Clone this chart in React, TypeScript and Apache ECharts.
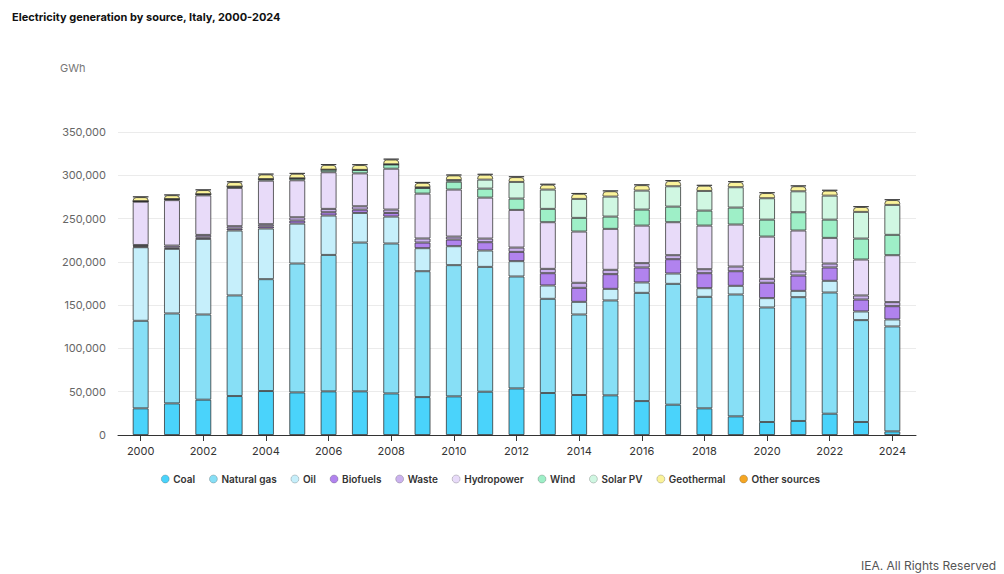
import React, { useEffect, useRef } from "react";
import * as echarts from "echarts";

const years = ["2000","2001","2002","2003","2004","2005","2006","2007","2008","2009","2010","2011","2012","2013","2014","2015","2016","2017","2018","2019","2020","2021","2022","2023","2024"];

// GWh
const coal = [30800, 36500, 40800, 45000, 50800, 49200, 50400, 50400, 48000, 43800, 44600, 50000, 53800, 48500, 46200, 45800, 39200, 35000, 30800, 21500, 15000, 16200, 24600, 15000, 4200];
const naturalGas = [101100, 103900, 98400, 116200, 129200, 148900, 157600, 171900, 173200, 145400, 151600, 144200, 129300, 108800, 93000, 109600, 125000, 139600, 128800, 140800, 132300, 143000, 140000, 117700, 121200];
const oil = [85000, 74600, 87300, 75000, 58500, 46100, 45500, 34200, 31100, 26600, 21900, 18900, 17700, 15400, 14600, 13400, 12000, 11900, 10000, 10000, 10800, 7300, 13500, 10000, 8100];
const biofuels = [1000, 1400, 1800, 2200, 2500, 3500, 3800, 3800, 4200, 6500, 7700, 9600, 10700, 14200, 16200, 17000, 17300, 16600, 17300, 16900, 17700, 17700, 15400, 13800, 15300];
const waste = [1600, 2400, 2800, 2800, 2500, 3800, 3900, 3900, 3900, 4700, 3400, 4200, 5000, 5000, 5800, 5000, 5000, 4600, 4600, 5400, 4600, 4600, 4600, 4700, 4700];
const hydropower = [50000, 52500, 45700, 44200, 50300, 42700, 42300, 38000, 47200, 51800, 54300, 47300, 43500, 53900, 59200, 47300, 43400, 38100, 50400, 48500, 48800, 47400, 29600, 41500, 54200];
const wind = [600, 1200, 1400, 1500, 1800, 2300, 3000, 4000, 4900, 6500, 9100, 10400, 13100, 15400, 15800, 14200, 18500, 18000, 17300, 19600, 19600, 21100, 21100, 24200, 23500];
const solarPV = [0, 0, 0, 0, 0, 0, 0, 40, 200, 700, 1900, 10400, 19200, 22300, 21900, 23100, 21900, 23500, 22700, 23500, 24700, 24200, 27700, 30800, 34600];
const geothermal = [4700, 4500, 4700, 5300, 5400, 5300, 5500, 5600, 5500, 5300, 5400, 5700, 5600, 5700, 5900, 6200, 6300, 6200, 6100, 6100, 6000, 5900, 5800, 5700, 5600];
const otherSources = [600, 600, 600, 700, 800, 800, 800, 900, 900, 900, 900, 900, 900, 900, 800, 800, 800, 800, 800, 800, 800, 800, 800, 800, 800];

const seriesDefs = [
  { name: "Coal", data: coal, color: "#4AD3FB" },
  { name: "Natural gas", data: naturalGas, color: "#87DFF6" },
  { name: "Oil", data: oil, color: "#C6EFFB" },
  { name: "Biofuels", data: biofuels, color: "#B183EE" },
  { name: "Waste", data: waste, color: "#CBB2EE" },
  { name: "Hydropower", data: hydropower, color: "#E8DBF9" },
  { name: "Wind", data: wind, color: "#9EEFC7" },
  { name: "Solar PV", data: solarPV, color: "#D0F7E2" },
  { name: "Geothermal", data: geothermal, color: "#FBF39A" },
  { name: "Other sources", data: otherSources, color: "#F5A623" },
];

const FONT = "Inter, 'Noto Sans', sans-serif";

export default function App() {
  const ref = useRef<HTMLDivElement>(null);
  useEffect(() => {
    if (!ref.current) return;
    const chart = echarts.init(ref.current, null, { renderer: "svg" });
    const top = seriesDefs.length - 1;
    chart.setOption({
      animation: false,
      backgroundColor: "#ffffff",
      textStyle: { fontFamily: FONT },
      title: {
        text: "Electricity generation by source, Italy, 2000-2024",
        left: 7,
        top: 6,
        textStyle: { fontSize: 11, fontWeight: 700, color: "#111", fontFamily: FONT },
      },
      graphic: [
        { type: "text", left: 60, top: 62, style: { text: "GWh", fontSize: 11, fill: "#777", fontFamily: FONT } },
        { type: "text", right: 8, top: 559, style: { text: "IEA. All Rights Reserved", fontSize: 12, fill: "#555", fontFamily: FONT } },
      ],
      legend: {
        left: 156,
        top: 469,
        itemWidth: 8,
        itemHeight: 8,
        itemGap: 14,
        icon: "circle",
        itemStyle: { borderWidth: 0.5, borderColor: "rgba(60,60,60,0.5)" },
        textStyle: { fontSize: 10, fontWeight: 600, color: "#333", fontFamily: FONT, padding: [0, 0, 0, -1] },
        data: seriesDefs.map((s) => s.name),
      },
      grid: [
        { left: 118, right: 88, top: 132, bottom: 139 },
        { left: 125, right: 96, top: 132, bottom: 139 },
      ],
      xAxis: [
        {
          type: "value", gridIndex: 0, min: 0, max: 1,
          axisLine: { show: true, lineStyle: { color: "#333", width: 1 } },
          axisTick: { show: false }, axisLabel: { show: false }, splitLine: { show: false },
        },
        {
          type: "category", gridIndex: 1, data: years,
          axisLine: { show: false },
          axisTick: { show: true, interval: 1, alignWithLabel: true, length: 6, lineStyle: { color: "#333" } },
          axisLabel: { interval: 1, margin: 10, fontSize: 11, color: "#333", fontFamily: FONT },
        },
      ],
      yAxis: [
        {
          type: "value", gridIndex: 0, min: 0, max: 350000, interval: 50000,
          axisLine: { show: false }, axisTick: { show: false },
          axisLabel: { margin: 12, fontSize: 11, color: "#666", fontFamily: FONT, formatter: (v: number) => v.toLocaleString("en-US") },
          splitLine: { lineStyle: { color: "#ebebeb", width: 1 } },
        },
        {
          type: "value", gridIndex: 1, min: 0, max: 350000, interval: 50000, show: false,
          splitLine: { show: false },
        },
      ],
      series: seriesDefs.map((s, i) => ({
        name: s.name,
        type: "bar",
        stack: "total",
        xAxisIndex: 1,
        yAxisIndex: 1,
        barWidth: 16,
        data: s.data,
        itemStyle: {
          color: s.color,
          borderColor: "rgba(45,45,45,0.75)",
          borderWidth: 1,
          borderRadius: i >= top - 1 ? [3, 3, 0, 0] : 0,
        },
      })),
    });
    return () => chart.dispose();
  }, []);
  return <div ref={ref} style={{ position: "fixed", left: 0, top: 0, width: 1004, height: 574 }} />;
}
